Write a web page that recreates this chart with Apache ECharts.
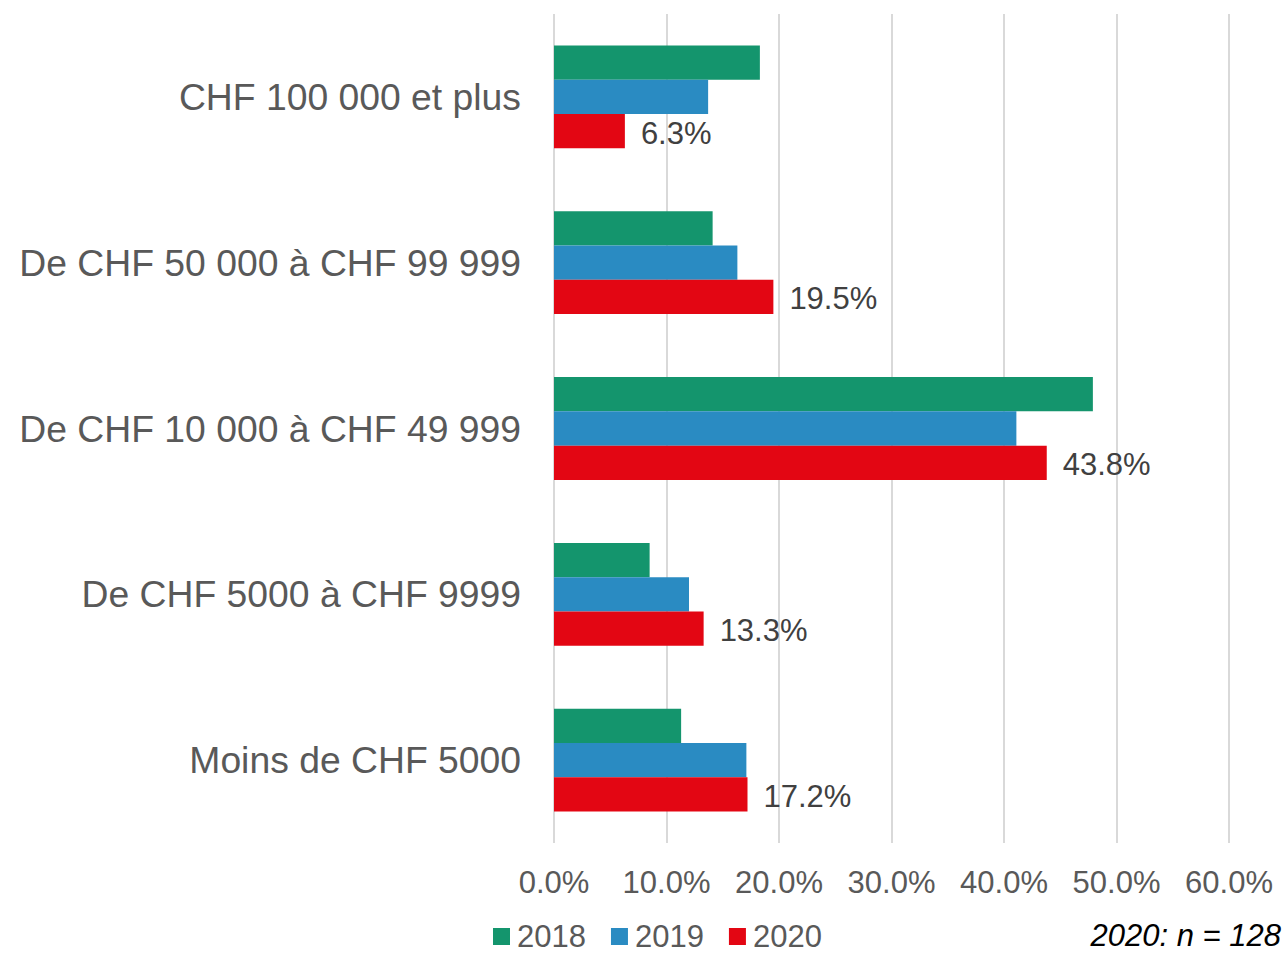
<!DOCTYPE html>
<html>
<head>
<meta charset="utf-8">
<script src="https://cdn.jsdelivr.net/npm/echarts@6/dist/echarts.min.js"></script>
<style>
  html, body { margin: 0; padding: 0; background: #ffffff; }
  #chart { width: 1286px; height: 953px; }
</style>
</head>
<body>
<div id="chart"></div>
<script>
const categories = [
  'CHF 100 000 et plus',
  'De CHF 50 000 à CHF 99 999',
  'De CHF 10 000 à CHF 49 999',
  'De CHF 5000 à CHF 9999',
  'Moins de CHF 5000'
];
const years = ['2018', '2019', '2020'];
const values2018 = [18.3, 14.1, 47.9, 8.5, 11.3];
const values2019 = [13.7, 16.3, 41.1, 12.0, 17.1];
const values2020 = [6.3, 19.5, 43.8, 13.3, 17.2];
const yearColors = ['#14956d', '#2a8bc2', '#e30613'];
const note = '2020: n = 128';

const font = '"Liberation Sans", Arial, sans-serif';
const chart = echarts.init(document.getElementById('chart'), null, { renderer: 'svg' });

const seriesData = [values2018, values2019, values2020];

chart.setOption({
  backgroundColor: '#ffffff',
  animation: false,
  textStyle: { fontFamily: font },
  grid: { left: 554, right: 57, top: 14, bottom: 110 },
  legend: {
    left: 493,
    top: 921,
    padding: 0,
    itemWidth: 17,
    itemHeight: 17,
    itemGap: 25,
    icon: 'rect',
    textStyle: { fontFamily: font, fontSize: 31, lineHeight: 31, color: '#595959', padding: [0, 0, 0, 2] },
    data: years
  },
  graphic: [{
    type: 'text',
    right: 5,
    top: 920,
    style: {
      text: note,
      font: `italic 31px ${font}`,
      fill: '#000000'
    }
  }],
  xAxis: {
    type: 'value',
    min: 0,
    max: 60,
    interval: 10,
    axisLine: { show: false },
    axisTick: { show: false },
    axisLabel: {
      color: '#595959',
      fontSize: 31,
      fontFamily: font,
      margin: 24,
      formatter: v => v.toFixed(1) + '%'
    },
    splitLine: { lineStyle: { color: '#d9d9d9', width: 2 } }
  },
  yAxis: {
    type: 'category',
    inverse: true,
    data: categories,
    axisLine: { show: false },
    axisTick: { show: false },
    axisLabel: {
      color: '#595959',
      fontSize: 37.3,
      fontFamily: font,
      margin: 33
    }
  },
  series: years.map((year, i) => ({
    name: year,
    type: 'bar',
    barGap: '0%',
    barCategoryGap: '38%',
    itemStyle: { color: yearColors[i] },
    label: {
      show: i === 2,
      position: 'right',
      distance: 16,
      color: '#404040',
      fontSize: 31,
      fontFamily: font,
      offset: [0, 2],
      formatter: p => p.value.toFixed(1) + '%'
    },
    data: seriesData[i]
  }))
});
</script>
</body>
</html>
